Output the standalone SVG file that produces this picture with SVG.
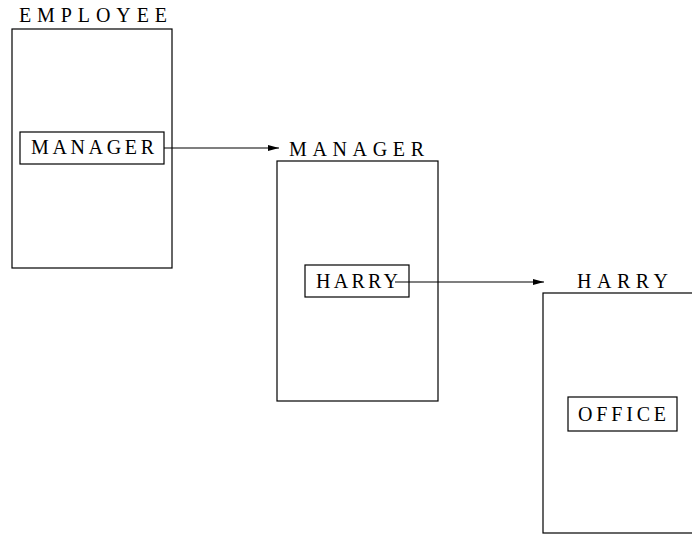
<svg xmlns="http://www.w3.org/2000/svg" width="692" height="534" viewBox="0 0 692 534">
<style>
.frame{fill:none;stroke:#000;stroke-width:1.2}
.t{font-family:"Liberation Serif","Times New Roman",serif;font-size:20px;fill:#000}
.conn{fill:none;stroke:#000;stroke-width:1.1}
</style>
<defs>
<marker id="ah" markerWidth="12" markerHeight="8" refX="11" refY="4" orient="auto" markerUnits="userSpaceOnUse">
<path d="M0,1 L11,4 L0,7 Z" fill="#000"/>
</marker>
</defs>
<rect width="692" height="534" fill="#fff"/>
<g id="employee">
<text class="t" x="19" y="22" textLength="148" lengthAdjust="spacing">EMPLOYEE</text>
<rect class="frame" x="12" y="29" width="160" height="239"/>
<g id="employee-manager">
<rect class="frame" x="20" y="132" width="144" height="32"/>
<text class="t" x="31" y="154" textLength="123" lengthAdjust="spacing">MANAGER</text>
</g>
</g>
<g id="manager">
<text class="t" x="289" y="156" textLength="135" lengthAdjust="spacing">MANAGER</text>
<rect class="frame" x="277" y="161" width="161" height="240"/>
<g id="manager-harry">
<rect class="frame" x="305" y="265" width="104" height="32"/>
<text class="t" x="316" y="288" textLength="82" lengthAdjust="spacing">HARRY</text>
</g>
</g>
<g id="harry">
<text class="t" x="577" y="288" textLength="91" lengthAdjust="spacing">HARRY</text>
<rect class="frame" x="543" y="293" width="170" height="240"/>
<g id="harry-office">
<rect class="frame" x="568" y="397" width="109" height="34"/>
<text class="t" x="578" y="421" textLength="88" lengthAdjust="spacing">OFFICE</text>
</g>
</g>
<g id="connectors">
<line class="conn" x1="164" y1="148" x2="279" y2="148" marker-end="url(#ah)"/>
<line class="conn" x1="395" y1="282" x2="544" y2="282" marker-end="url(#ah)"/>
</g>
</svg>
